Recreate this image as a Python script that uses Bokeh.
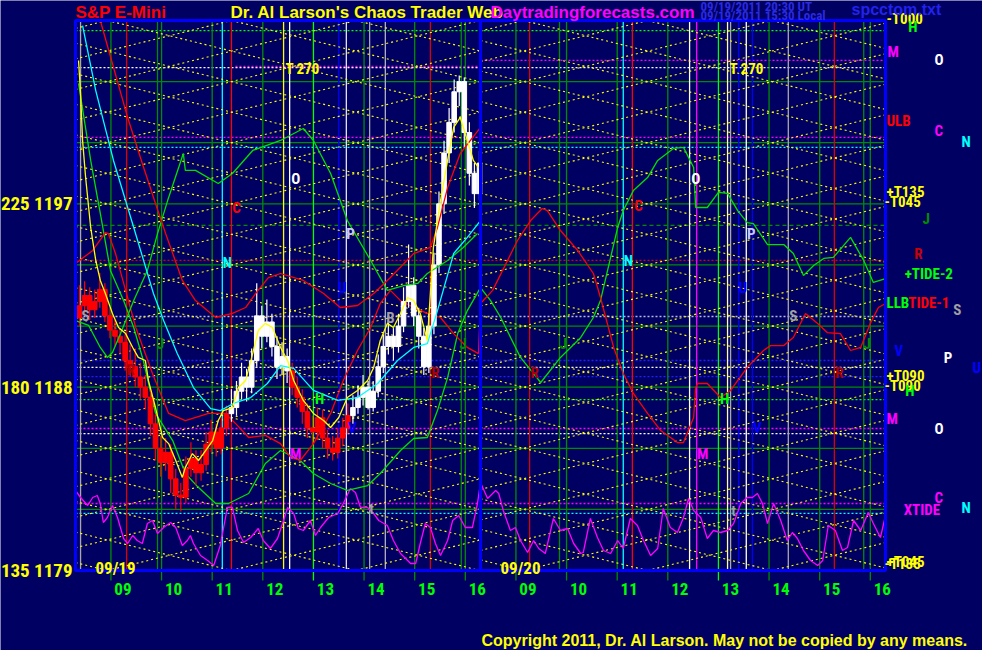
from bokeh.plotting import figure
from bokeh.models import Range1d
from bokeh.embed import file_html
from bokeh.resources import INLINE
from bokeh.core.properties import value

BG = "#000062"
NARROW = "Roboto Condensed, Liberation Sans"
SANS = "Liberation Sans"

# ---------------- time axis: 6-minute slots, each day 08:18-16:18 ----------------
SESSION_START = 8.3
SLOTS_PER_HOUR = 10
DAY_SLOTS = 80
HOURS = [9, 10, 11, 12, 13, 14, 15, 16]
HOUR_LABELS = ["09", "10", "11", "12", "13", "14", "15", "16"]
DATES = ["09/19", "09/20"]
DATE_SLOTS = [7.9, 87.9]

PRICE_LO, PRICE_HI = 1179, 1206
Y_TICKS = [1197, 1188, 1179]
Y_TICK_LABELS = ["225 1197", "180 1188", "135 1179"]
GRID_LEVELS = [1182, 1185, 1188, 1191, 1194, 1197, 1200, 1203]

# ---------------- 09/19 price bars (6-minute) ----------------
OPEN = [1191.4, 1192.0, 1192.5, 1191.8, 1192.2, 1192.8, 1191.5, 1190.8, 1190.5, 1190.2,
        1189.3, 1189.0, 1188.5, 1188.0, 1187.5, 1186.2, 1185.0, 1184.3, 1184.8, 1183.5,
        1182.7, 1182.6, 1184.0, 1184.5, 1183.8, 1184.2, 1185.2, 1185.8, 1185.0, 1186.0,
        1186.7, 1187.0, 1187.8, 1188.5, 1188.0, 1189.3, 1191.5, 1190.5, 1191.2, 1190.0,
        1189.0, 1189.5, 1188.8, 1188.0, 1187.5, 1186.8, 1186.0, 1185.8, 1186.5, 1185.5,
        1185.0, 1184.8, 1185.5, 1186.0, 1186.6, 1187.0, 1187.5, 1188.0, 1187.0, 1187.8,
        1189.0, 1190.0, 1190.5, 1190.0, 1191.0, 1192.2, 1193.0, 1191.5, 1190.5, 1189.0,
        1191.0, 1194.0, 1197.0, 1199.5, 1201.0, 1202.5, 1203.0, 1200.5, 1198.5, 1197.5]
HIGH = [1193.0, 1193.2, 1192.9, 1192.8, 1193.6, 1193.1, 1191.9, 1191.3, 1190.9, 1190.6,
        1190.1, 1189.9, 1189.2, 1188.6, 1187.9, 1186.7, 1185.6, 1185.5, 1185.2, 1184.0,
        1183.3, 1184.6, 1185.3, 1184.9, 1184.9, 1185.8, 1186.4, 1186.2, 1186.5, 1187.1,
        1187.9, 1188.3, 1189.2, 1188.9, 1189.9, 1193.1, 1192.0, 1192.3, 1191.6, 1190.5,
        1190.2, 1189.9, 1189.2, 1188.5, 1187.9, 1187.2, 1186.6, 1187.0, 1186.9, 1185.9,
        1185.6, 1186.0, 1186.5, 1187.2, 1187.6, 1188.1, 1188.6, 1188.3, 1188.3, 1189.6,
        1190.6, 1191.3, 1190.9, 1191.6, 1192.9, 1195.0, 1193.4, 1191.9, 1190.9, 1191.6,
        1194.6, 1197.6, 1200.1, 1201.7, 1203.1, 1203.3, 1203.2, 1201.0, 1199.0, 1199.6]
LOW = [1191.0, 1191.6, 1191.3, 1191.4, 1191.9, 1191.2, 1190.4, 1190.0, 1189.6, 1188.8,
       1188.5, 1188.0, 1187.4, 1186.9, 1185.6, 1184.4, 1183.6, 1183.9, 1182.8, 1182.0,
       1181.9, 1182.3, 1183.6, 1183.2, 1183.4, 1183.9, 1184.8, 1184.6, 1184.7, 1185.6,
       1186.3, 1186.6, 1187.4, 1187.3, 1187.7, 1189.0, 1189.9, 1190.2, 1189.5, 1188.4,
       1188.6, 1188.2, 1187.6, 1187.0, 1186.2, 1185.5, 1185.2, 1185.4, 1185.0, 1184.5,
       1184.4, 1184.5, 1185.1, 1185.7, 1186.2, 1186.7, 1187.1, 1186.9, 1186.8, 1187.5,
       1188.7, 1189.6, 1189.3, 1189.7, 1190.7, 1191.9, 1191.0, 1189.9, 1188.6, 1188.7,
       1190.6, 1193.6, 1196.5, 1199.0, 1200.5, 1201.8, 1199.8, 1197.9, 1196.8, 1197.2]
CLOSE = [1192.0, 1192.5, 1191.8, 1192.2, 1192.8, 1191.5, 1190.8, 1190.5, 1190.2, 1189.3,
         1189.0, 1188.5, 1188.0, 1187.5, 1186.2, 1185.0, 1184.3, 1184.8, 1183.5, 1182.7,
         1182.6, 1184.0, 1184.5, 1183.8, 1184.2, 1185.2, 1185.8, 1185.0, 1186.0, 1186.7,
         1187.0, 1187.8, 1188.5, 1188.0, 1189.3, 1191.5, 1190.5, 1191.2, 1190.0, 1189.0,
         1189.5, 1188.8, 1188.0, 1187.5, 1186.8, 1186.0, 1185.8, 1186.5, 1185.5, 1185.0,
         1184.8, 1185.5, 1186.0, 1186.6, 1187.0, 1187.5, 1188.0, 1187.0, 1187.8, 1189.0,
         1190.0, 1190.5, 1190.0, 1191.0, 1192.2, 1193.0, 1191.5, 1190.5, 1189.0, 1191.0,
         1194.0, 1197.0, 1199.5, 1201.0, 1202.5, 1203.0, 1200.5, 1198.5, 1197.5, 1199.0]
TREND = ["down"] * 30 + ["up"] * 12 + ["down"] * 12 + ["up"] * 26
BAR_OFFSET = 0.8

# ---------------- indicator curves (slot, price) ----------------
FAST_S = [0.6, 1.0, 1.4, 2.0, 3.0, 4.0, 4.9, 5.9, 7.3, 8.5, 9.9, 11.3, 12.4, 13.8, 14.4, 15.8, 17.2, 18.4,
          19.8, 21.1, 21.7, 23.1, 24.3, 25.7, 27.1, 28.2, 29.2, 31.0, 32.2, 33.6, 35.0, 36.1, 37.5, 38.9,
          40.5, 41.9, 43.1, 45.0, 47.0, 49.0, 50.4, 52.0, 53.7, 55.7, 57.7, 58.9, 60.2, 61.6, 62.8, 64.2,
          65.6, 66.8, 68.1, 69.5, 70.1, 70.7, 72.1, 73.5, 74.7, 76.0, 77.4, 78.6, 80.0]
FAST_P = [1204.04, 1202.42, 1200.11, 1198.29, 1195.84, 1194.22, 1193.24, 1192.60, 1191.62, 1190.93,
          1190.63, 1189.95, 1189.46, 1189.31, 1188.33, 1187.0, 1185.53, 1185.23, 1184.40, 1183.57,
          1184.06, 1184.74, 1184.40, 1184.89, 1185.38, 1186.36, 1186.85, 1187.0, 1187.98, 1188.33,
          1189.65, 1190.78, 1191.13, 1190.93, 1189.95, 1189.31, 1188.33, 1187.35, 1186.71, 1186.36,
          1186.02, 1186.51, 1187.49, 1187.84, 1188.33, 1188.97, 1190.29, 1191.13, 1190.93, 1191.62,
          1192.40, 1192.25, 1191.62, 1190.29, 1192.60, 1194.86, 1197.16, 1199.13, 1200.75, 1201.24,
          1200.11, 1199.13, 1198.64]
SLOW_S = [1.4, 4.0, 7.5, 11.5, 15.4, 17.4, 20.1, 23.3, 26.7, 28.6, 31.2, 34.6, 37.9, 40.5, 43.1, 47.0,
          51.8, 55.7, 59.7, 63.6, 66.8, 69.5, 71.5, 74.7, 77.4, 80.0]
SLOW_P = [1205.75, 1202.56, 1199.13, 1195.84, 1192.60, 1191.27, 1189.65, 1187.98, 1186.95, 1186.85,
          1187.20, 1187.49, 1188.18, 1189.06, 1188.92, 1187.84, 1187.35, 1187.49, 1188.18, 1189.31,
          1189.95, 1190.14, 1191.76, 1194.56, 1195.35, 1196.18]
REDA_S = [4.9, 10.3, 13.2, 15.8, 17.8, 21.1, 23.7, 27.7, 31.0, 33.6, 35.6, 38.1, 40.5, 45.0, 49.0, 52.3,
          55.7, 58.9, 62.2, 66.8, 70.1, 71.5, 73.5, 76.0, 80.0]
REDA_P = [1206.0, 1201.24, 1198.98, 1197.02, 1195.54, 1193.24, 1192.25, 1191.42, 1191.62, 1191.91,
          1192.60, 1193.38, 1193.58, 1193.24, 1192.60, 1191.91, 1192.01, 1192.60, 1193.38, 1194.56,
          1194.86, 1195.84, 1197.80, 1199.47, 1200.75]
GRNB_S = [0, 2.6, 4.9, 6.3, 7.3, 8.9, 11.5, 14.2, 16.2, 18.2, 21.3, 21.7, 23.7, 28.2, 31.0, 35.0, 40.5,
          45.0, 47.0, 50.4, 53.7, 58.3, 61.6, 64.8, 67.6, 69.5, 73.5, 76.6, 79.4]
GRNB_P = [1191.27, 1191.03, 1189.95, 1189.46, 1189.70, 1190.63, 1192.25, 1193.73, 1195.54, 1197.16,
          1199.47, 1198.64, 1198.64, 1198.0, 1198.49, 1199.62, 1200.11, 1200.70, 1200.11, 1198.49,
          1196.18, 1194.22, 1192.75, 1192.99, 1193.09, 1193.58, 1194.22, 1194.86, 1195.54]
TIDE1_S = [0, 3.4, 5.9, 6.5, 7.9, 9.9, 11.9, 15.2, 18.4, 21.7, 26.3, 29.6, 31.6, 34.2, 37.5, 40.5, 42.5,
           44.4, 47.0, 50.4, 52.9, 55.7, 58.3, 60.2, 62.2, 64.2, 66.8, 69.5, 72.1, 74.7, 77.4, 79.6, 80.0,
           82.4, 87.3, 89.9, 92.2, 93.2, 95.8, 99.2, 102.3, 103.7, 106.3, 108.2, 110.2, 113.0, 115.6,
           118.9, 120.1, 122.1, 122.5, 122.9, 124.8, 127.4, 129.4, 132.7, 135.9, 137.3, 139.9, 141.8,
           144.2, 146.6, 148.5, 151.1, 153.1, 155.1, 157.0, 158.6, 160.0]
TIDE1_P = [1194.07, 1194.71, 1195.59, 1195.54, 1194.56, 1192.75, 1190.93, 1188.67, 1186.71, 1186.36,
           1186.71, 1186.71, 1186.22, 1185.53, 1185.63, 1185.23, 1184.55, 1184.40, 1185.23, 1186.71,
           1188.33, 1189.80, 1190.93, 1192.11, 1192.75, 1192.25, 1191.91, 1191.62, 1191.42, 1190.63,
           1189.95, 1189.65, 1192.11, 1192.75, 1195.20, 1196.18, 1196.77, 1196.67, 1195.69, 1194.71,
           1193.58, 1192.40, 1189.95, 1188.67, 1187.69, 1186.71, 1185.87, 1185.28, 1185.28, 1186.51,
           1187.98, 1188.18, 1188.18, 1187.49, 1187.84, 1188.97, 1189.80, 1190.04, 1190.04, 1190.44,
           1191.62, 1191.13, 1190.68, 1190.63, 1189.80, 1189.95, 1191.13, 1191.91, 1192.11]
TIDE2_S = [0.6, 3.0, 4.9, 6.9, 9.5, 11.5, 13.4, 15.8, 19.2, 21.7, 24.3, 27.7, 30.2, 34.2, 37.5, 40.5, 44.4,
           47.0, 50.4, 53.7, 57.7, 60.2, 64.2, 66.8, 69.5, 71.5, 73.5, 75.5, 77.4, 80.0, 82.0, 84.0, 87.9,
           91.9, 95.8, 99.8, 102.3, 103.7, 105.1, 107.1, 108.2, 110.2, 113.0, 115.0, 118.1, 120.1, 122.1,
           122.5, 124.8, 127.0, 128.8, 130.8, 132.7, 133.9, 136.7, 139.9, 141.8, 143.8, 145.8, 147.8,
           149.7, 153.1, 155.7, 157.6, 160.0]
TIDE2_P = [1202.91, 1199.13, 1196.53, 1193.73, 1192.25, 1190.93, 1189.31, 1186.71, 1185.38, 1183.76,
           1183.07, 1182.29, 1182.29, 1182.78, 1184.25, 1184.89, 1184.40, 1183.76, 1183.27, 1182.93,
           1183.17, 1183.76, 1184.89, 1185.48, 1185.53, 1186.85, 1188.47, 1190.63, 1191.76, 1192.89,
           1192.25, 1191.42, 1189.46, 1188.23, 1189.46, 1190.44, 1191.42, 1192.25, 1193.73, 1195.84,
           1196.67, 1197.65, 1198.29, 1199.13, 1199.72, 1199.77, 1198.78, 1196.82, 1196.82, 1197.56,
           1197.51, 1196.67, 1196.08, 1196.03, 1195.0, 1195.0, 1194.56, 1193.48, 1193.97, 1194.32,
           1194.37, 1195.35, 1194.22, 1193.14, 1193.33]
# XTIDE oscillator (own scale: 0 at the chart floor, 2 px per unit)
XTIDE_S = [0, 1.0, 2.4, 3.4, 4.3, 4.9, 5.5, 6.3, 7.3, 8.3, 9.5, 10.3, 11.3, 12.2, 13.2, 14.2, 15.2, 16.2,
           17.4, 18.8, 19.8, 21.1, 22.1, 22.7, 23.3, 24.7, 26.1, 27.3, 28.6, 30.0, 31.0, 32.0, 33.2, 34.6,
           36.1, 37.1, 38.5, 39.9, 41.1, 41.9, 43.1, 44.0, 45.0, 46.4, 47.4, 48.4, 50.0, 51.8, 52.9, 54.3,
           55.3, 56.3, 57.7, 58.9, 59.9, 61.6, 62.8, 64.2, 66.2, 67.2, 68.1, 69.1, 70.1, 71.1, 72.1, 73.5,
           74.5, 75.7, 77.0, 78.4, 79.4, 80.0, 81.4, 83.0, 83.6, 84.5, 85.9, 86.9, 87.9, 89.3, 90.5, 91.5,
           92.8, 94.4, 95.8, 97.2, 98.4, 99.8, 100.3, 101.7, 103.1, 104.3, 105.7, 107.1, 108.2, 109.6,
           111.0, 112.2, 113.6, 115.0, 116.1, 117.5, 118.9, 120.1, 121.1, 122.1, 123.5, 124.8, 126.0,
           127.4, 128.8, 130.0, 131.4, 132.7, 133.7, 134.7, 135.7, 136.7, 137.9, 139.3, 140.6, 141.6,
           142.6, 143.8, 145.2, 146.6, 147.6, 148.7, 150.1, 151.5, 152.5, 153.7, 155.1, 156.6, 157.6,
           159.0, 160.0]
XTIDE_V = [40, 36.5, 32.5, 36.5, 37.5, 33.5, 24, 26.5, 32.5, 26.5, 16, 13.5, 17.5, 15, 13.5, 23.5, 25, 18.5,
           21.5, 24, 21.5, 12.5, 15, 17.5, 13.5, 7.5, 5, 2.5, 12.5, 31.5, 31.5, 20, 14, 16.5, 21, 15, 11, 16,
           25, 31.5, 28.5, 21, 20, 25, 17.5, 21.5, 26.5, 28.5, 33.5, 41, 39, 31.5, 31.5, 28.5, 25, 22.5, 15,
           8.5, 3.5, 3.5, 13.5, 23.5, 21.5, 13.5, 7.5, 15, 25, 27.5, 21.5, 21.5, 33.5, 44, 36, 40, 38.5, 30,
           20, 21.5, 15, 9, 15, 11, 8.5, 26, 20, 21, 13.5, 8.5, 9, 26, 16.5, 10, 8.5, 15, 11, 26, 22.5, 15,
           7.5, 11, 31, 21.5, 19, 26.5, 36, 30, 26.5, 16, 20, 19, 20, 23.5, 33.5, 36.5, 36.5, 38.5, 33.5,
           23.5, 33.5, 25, 15, 19, 16, 10, 5, 2.5, 5, 22.5, 20, 10, 11.5, 25, 20, 29, 23.5, 16.5, 27.5]

# ---------------- cycle lines and levels ----------------
VLINE_SLOT = [1.0, 10.1, 16.2, 29.0, 30.8, 41.1, 42.3, 52.0, 53.5, 58.1, 61.2, 70.1, 76.2,
              89.7, 95.6, 108.2, 110.0, 121.3, 122.7, 128.8, 129.4, 131.0, 132.5, 133.7, 140.8,
              149.9, 155.7]
VLINE_COLOR = ["#A8A8A8", "#DD0000", "#008C00", "#00FFFF", "#FF0000", "#FFFF00", "#FFFFFF", "#0000FF",
               "#E0E0FF", "#A8A8A8", "#B0B0C8", "#DD0000", "#008C00",
               "#DD0000", "#008C00", "#00FFFF", "#FF0000", "#FFFFFF", "#FF00FF", "#FFFFA0", "#A8A8A8",
               "#0000FF", "#FFFFFF", "#0000FF", "#A8A8A8", "#DD0000", "#008C00"]
LEVEL_PRICE = [1205.5, 1203.69, 1203.75, 1204.04, 1200.26, 1199.77, 1195.94, 1194.22, 1191.47,
               1189.31, 1188.97, 1188.52, 1187.39, 1185.97, 1185.72, 1182.29, 1181.8]
LEVEL_COLOR = ["#00FF00", "#FFFFFF", "#FF00FF", "#FF00FF", "#FF00FF", "#00FFFF", "#008C00", "#E00000",
               "#B8B8E0", "#2020FF", "#FFFFFF", "#2020FF", "#00FF00", "#FF00FF", "#FFFFFF", "#FF00FF",
               "#00FFFF"]
LEVEL_FROM = [0, 0, 31.6, 80, 0, 0, 0, 0, 0, 0, 0, 0, 0, 0, 0, 0, 0]
LEVEL_TO = [160, 160, 80, 160, 160, 160, 160, 160, 160, 160, 160, 160, 160, 160, 160, 160, 160]
LATTICE_SLOPE = 0.0611                  # price points per slot
LATTICE_PHASE = [6.3, 88.5]             # slot where each day's lattice crosses the 3-point grid
LATTICE_SHIFTS = [0, 24.5]              # main lattice and its half-period companion

# ---------------- in-chart markers ----------------
MARK_TEXT = ["T  270", "T  270", "O", "O", "C", "C", "N", "N", "P", "P", "U", "U", "S", "S", "B",
             "J", "J", "J", "J", "R", "R", "R", "R", "H", "H", "V", "V", "M", "M", "t", "t"]
MARK_SLOT = [45.2, 132.9, 43.5, 122.5, 31.8, 111.2, 30.0, 109.2, 54.3, 133.5, 52.7, 131.8, 2.0, 141.8,
             62.2, 16.8, 76.6, 96.4, 156.4, 10.9, 71.1, 90.7, 150.9, 48.2, 128.2, 54.7, 134.7, 43.5,
             123.9, 58.5, 130.0]
MARK_PRICE = [1203.64, 1203.64, 1198.24, 1198.24, 1196.82, 1196.87, 1194.12, 1194.17, 1195.54, 1195.54,
              1192.89, 1192.89, 1191.47, 1191.47, 1191.42, 1190.14, 1190.14, 1190.14, 1190.14, 1188.82,
              1188.72, 1188.72, 1188.72, 1187.44, 1187.44, 1186.02, 1186.02, 1184.74, 1184.74, 1182.04,
              1181.94]
MARK_COLOR = ["#FFFF00", "#FFFF00", "#FFFFFF", "#FFFFFF", "#FF0000", "#FF0000", "#00FFFF", "#00FFFF",
              "#C8C8FF", "#C8C8FF", "#0000FF", "#0000FF", "#A0A0A0", "#A0A0A0", "#A0A0A0",
              "#008C00", "#008C00", "#008C00", "#008C00", "#B00000", "#B00000", "#B00000", "#B00000",
              "#00FF00", "#00FF00", "#0000FF", "#0000FF", "#FF00FF", "#FF00FF", "#A0A0A0", "#A0A0A0"]

# right-hand legend of levels and cycles
SIDE_TEXT = ["-T000", "H", "M", "O", "ULB", "C", "N", "+T135", "-T045", "J", "R", "+TIDE-2", "LLB",
             "TIDE-1", "S", "V", "P", "U", "+T090", "-T090", "H", "M", "O", "C", "XTIDE", "N", "+T045",
             "-T135"]
SIDE_SLOT = [160.2, 164.5, 160.4, 169.7, 160.2, 169.7, 175.0, 160.2, 159.8, 167.3, 165.7, 163.8, 160.2,
             164.5, 173.4, 161.8, 171.5, 177.2, 160.2, 159.8, 163.9, 160.2, 169.7, 169.7, 163.6, 175.0,
             160.2, 159.8]
SIDE_PRICE = [1206.05, 1205.7, 1204.43, 1204.04, 1201.09, 1200.60, 1200.06, 1197.6, 1197.07, 1196.28,
              1194.56, 1193.58, 1192.11, 1192.11, 1191.81, 1189.80, 1189.41, 1188.92, 1188.57, 1188.08,
              1187.79, 1186.46, 1185.97, 1182.58, 1181.99, 1182.09, 1179.44, 1179.34]
SIDE_COLOR = ["#FFFF00", "#00FF00", "#FF00FF", "#FFFFFF", "#FF0000", "#FF00FF", "#00FFFF", "#FFFF00",
              "#FFFF00", "#008C00", "#CC0000", "#00FF00", "#00FF00", "#FF0000", "#A0A0A0", "#0000FF",
              "#FFFFFF", "#0000FF", "#FFFF00", "#FFFF00", "#00FF00", "#FF00FF", "#FFFFFF", "#FF00FF",
              "#FF00FF", "#00FFFF", "#FFFF00", "#FFFF00"]

# ================= figure (frame = whole canvas; chart box drawn inside) =================
W, H = 982, 650
BOX_L, BOX_R, BOX_T, BOX_B = 75, 885, 20, 570          # chart box position on the canvas (px)
sx = (BOX_R - BOX_L) / (2 * DAY_SLOTS)
sy = (BOX_B - BOX_T) / (PRICE_HI - PRICE_LO)
x_range = Range1d(-BOX_L / sx, 2 * DAY_SLOTS + (W - BOX_R) / sx)
y_range = Range1d(PRICE_LO - (H - BOX_B) / sy, PRICE_HI + BOX_T / sy)

p = figure(width=W, height=H, x_range=x_range, y_range=y_range, output_backend="svg",
           toolbar_location=None, title=None, min_border=0)
p.background_fill_color = BG
p.border_fill_color = BG
p.outline_line_color = None
p.grid.visible = False
p.axis.visible = False
osc_lo = (PRICE_LO - y_range.start) * sy / 2
p.extra_y_ranges = {"tide": Range1d(-osc_lo, (y_range.end - PRICE_LO) * sy / 2)}

# horizontal 3-point grid
n = len(GRID_LEVELS)
p.segment(x0=[0] * n, x1=[2 * DAY_SLOTS] * n, y0=GRID_LEVELS, y1=GRID_LEVELS,
          line_color="#008C00", line_width=1.3)
for pr, col, a, b in zip(LEVEL_PRICE, LEVEL_COLOR, LEVEL_FROM, LEVEL_TO):
    p.segment(x0=[a], x1=[b], y0=[pr], y1=[pr], line_color=col, line_width=1.3,
              line_dash="4 3" if col == "#008C00" else "2 2")

# hour lines + tick marks below the chart box
hour_ticks = [round((h - SESSION_START) * SLOTS_PER_HOUR + d * DAY_SLOTS, 2) for d in range(2) for h in HOURS]
hour_text = [HOUR_LABELS[i % len(HOURS)] for i in range(len(hour_ticks))]
hcol = ["#00FF00" if HOURS[i % len(HOURS)] == 13 else "#008C00" for i in range(len(hour_ticks))]
m = len(hour_ticks)
p.segment(x0=hour_ticks, x1=hour_ticks, y0=[PRICE_LO - 10 / sy] * m, y1=[PRICE_HI] * m,
          line_color=hcol, line_width=1.3)
k = len(VLINE_SLOT)
p.segment(x0=VLINE_SLOT, x1=VLINE_SLOT, y0=[PRICE_LO] * k, y1=[PRICE_HI] * k,
          line_color=VLINE_COLOR, line_width=1.3)

# diagonal lattice, clipped to the chart box
lx0, lx1, ly0, ly1 = [], [], [], []
for d, ph0 in enumerate(LATTICE_PHASE):
    s0, s1 = d * DAY_SLOTS, (d + 1) * DAY_SLOTS
    for shift in LATTICE_SHIFTS:
        ph = ph0 + shift
        for j in range(-4, 14):
            base = PRICE_LO + 3 * j
            for sgn in (1, -1):
                sa = ph + (PRICE_LO - base) / (sgn * LATTICE_SLOPE)
                sb = ph + (PRICE_HI - base) / (sgn * LATTICE_SLOPE)
                lo, hi = max(s0, min(sa, sb)), min(s1, max(sa, sb))
                if hi <= lo:
                    continue
                lx0.append(lo); lx1.append(hi)
                ly0.append(base + sgn * LATTICE_SLOPE * (lo - ph))
                ly1.append(base + sgn * LATTICE_SLOPE * (hi - ph))
p.segment(x0=lx0, x1=lx1, y0=ly0, y1=ly1, line_color="#FFFF00", line_width=1.1, line_dash="2 3")

# tide curves
p.line(XTIDE_S, XTIDE_V, y_range_name="tide", line_color="#FF00FF", line_width=1.3)
p.line(TIDE2_S, TIDE2_P, line_color="#00E000", line_width=1.3)
p.line(TIDE1_S, TIDE1_P, line_color="#FF0000", line_width=1.3)

# price bars
bar_x = [i + BAR_OFFSET for i in range(len(CLOSE))]
bar_col = ["#FF0000" if t == "down" else "#FFFFFF" for t in TREND]
p.segment(x0=bar_x, x1=bar_x, y0=LOW, y1=HIGH, line_color=bar_col, line_width=1.2)
p.vbar(x=bar_x, width=0.9, top=[max(o, c) for o, c in zip(OPEN, CLOSE)],
       bottom=[min(o, c) for o, c in zip(OPEN, CLOSE)], fill_color=bar_col, line_color=bar_col)

# day-1 indicator curves
p.line(GRNB_S, GRNB_P, line_color="#00E000", line_width=1.3)
p.line(REDA_S, REDA_P, line_color="#FF0000", line_width=1.3)
p.line(SLOW_S, SLOW_P, line_color="#00FFFF", line_width=1.3)
p.line(FAST_S, FAST_P, line_color="#FFFF00", line_width=1.3)

# chart box and day divider
p.quad(left=[0], right=[2 * DAY_SLOTS], bottom=[PRICE_LO], top=[PRICE_HI],
       fill_color=None, line_color="#0000FF", line_width=3)
p.segment(x0=[DAY_SLOTS], x1=[DAY_SLOTS], y0=[PRICE_LO], y1=[PRICE_HI], line_color="#0000FF", line_width=3)

# axis labels
p.text(x=[-3 / sx] * len(Y_TICKS), y=Y_TICKS, text=Y_TICK_LABELS, text_color="#FFFF00",
       text_font=value(NARROW), text_font_style="bold", text_font_size=value("19px"),
       text_align="right", text_baseline="alphabetic")
p.text(x=[t + 12 / sx for t in hour_ticks], y=[PRICE_LO - 18 / sy] * m, text=hour_text, text_color="#00FF00",
       text_font=value(NARROW), text_font_style="bold", text_font_size=value("17px"),
       text_align="center", text_baseline="alphabetic")
p.text(x=DATE_SLOTS, y=[PRICE_LO + 3 / sy] * 2, text=DATES, text_color="#FFFF00",
       text_font=value(NARROW), text_font_style="bold", text_font_size=value("17px"),
       text_align="center", text_baseline="alphabetic")

# in-chart markers and right-hand legend
p.text(x=MARK_SLOT, y=MARK_PRICE, text=MARK_TEXT, text_color=MARK_COLOR,
       text_font=value(NARROW), text_font_style="bold", text_font_size=value("15px"),
       text_align="center", text_baseline="middle")
p.text(x=SIDE_SLOT, y=SIDE_PRICE, text=SIDE_TEXT, text_color=SIDE_COLOR,
       text_font=value(NARROW), text_font_style="bold", text_font_size=value("15px"),
       text_align="left", text_baseline="middle")


def caption(text, left_px, mid_px, color, size, font=SANS):
    p.text(x=[(left_px - BOX_L) / sx], y=[PRICE_HI - (mid_px - BOX_T) / sy], text=[text], text_color=color,
           text_font=value(font), text_font_style="bold", text_font_size=value(size),
           text_align="left", text_baseline="middle")


caption("S&P E-Mini", 75, 12, "#FF0000", "17px")
caption("Dr. Al Larson's Chaos Trader Web", 230, 12, "#FFFF00", "17px")
caption("Daytradingforecasts.com", 490, 12, "#FF00FF", "17px")
caption("09/19/2011 20:30 UT", 700, 6, "#2A2AE0", "13px", NARROW)
caption("09/19/2011 15:30 Local", 700, 15, "#2A2AE0", "13px", NARROW)
caption("spcctom.txt", 851, 9, "#2222EE", "16px")
caption("Copyright 2011, Dr. Al Larson. May not be copied by any means.", 481, 640, "#FFFF00", "16px")

open("out.html", "w").write(file_html(p, INLINE, title="S&P E-Mini - Chaos Trader"))
